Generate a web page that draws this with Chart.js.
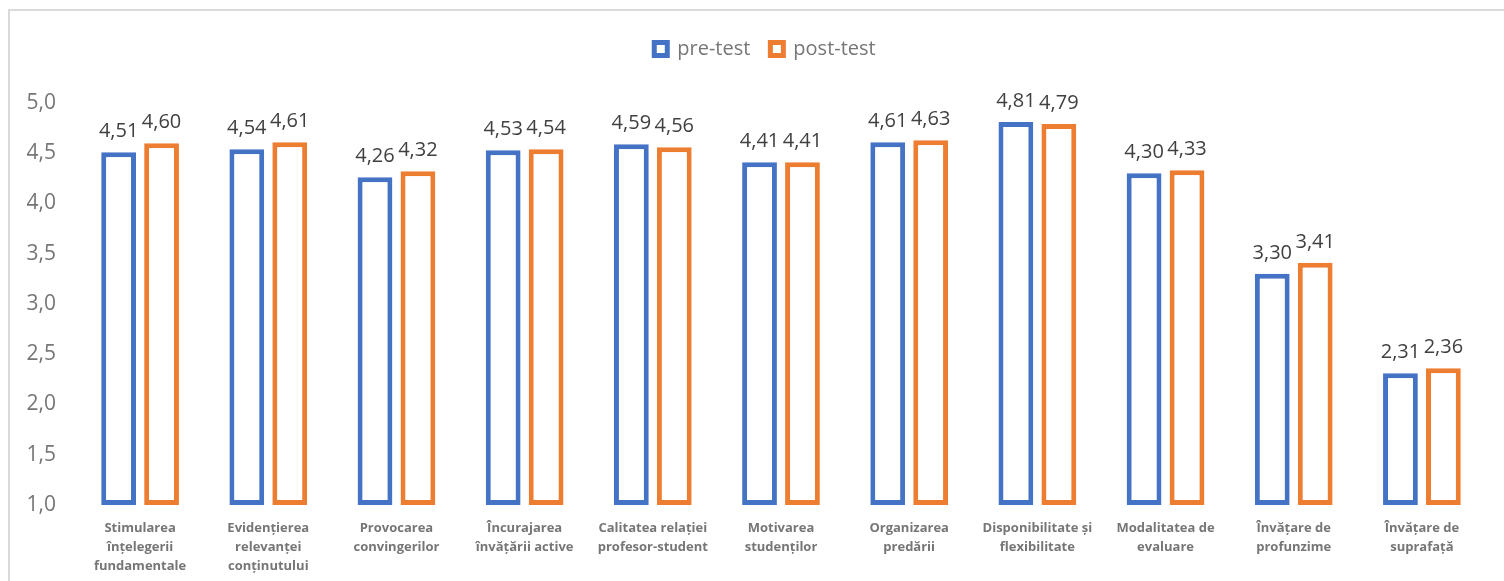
<!DOCTYPE html>
<html>
<head>
<meta charset="utf-8">
<title>pre-test / post-test</title>
<script src="https://cdn.jsdelivr.net/npm/chart.js@4.4.1/dist/chart.umd.min.js"></script>
<style>
  html, body { margin: 0; padding: 0; background: #fff; overflow: hidden; }
  .frame {
    position: absolute; left: 8px; top: 9px;
    width: 1600px; height: 700px;
    border: 2px solid #d9d9d9;
  }
  .wrap { position: absolute; left: 0; top: 0; width: 1504px; height: 581px; }
</style>
</head>
<body>
<div class="frame"></div>
<div class="wrap"><canvas id="chart"></canvas></div>
<script>
// Datele graficului
const categorii = [
  ['Stimularea', 'înțelegerii', 'fundamentale'],
  ['Evidențierea', 'relevanței', 'conținutului'],
  ['Provocarea', 'convingerilor'],
  ['Încurajarea', 'învățării active'],
  ['Calitatea relației', 'profesor-student'],
  ['Motivarea', 'studenților'],
  ['Organizarea', 'predării'],
  ['Disponibilitate și', 'flexibilitate'],
  ['Modalitatea de', 'evaluare'],
  ['Învățare de', 'profunzime'],
  ['Învățare de', 'suprafață'],
];
const preTest  = [4.51, 4.54, 4.26, 4.53, 4.59, 4.41, 4.61, 4.81, 4.30, 3.30, 2.31];
const postTest = [4.60, 4.61, 4.32, 4.54, 4.56, 4.41, 4.63, 4.79, 4.33, 3.41, 2.36];
const yMin = 1, yMax = 5, yStep = 0.5;

const BLUE = '#4472C4';
const ORANGE = '#ED7D31';
const GREY = '#767676';
const FONT = "'Open Sans', sans-serif";

const fmt = (v, d) => Number(v).toFixed(d).replace('.', ',');

// Etichete de valoare deasupra barelor
const valueLabels = {
  id: 'valueLabels',
  afterDatasetsDraw(chart) {
    const { ctx } = chart;
    ctx.save();
    ctx.font = `20px ${FONT}`;
    ctx.fillStyle = '#404040';
    ctx.textAlign = 'center';
    ctx.textBaseline = 'alphabetic';
    chart.data.datasets.forEach((ds, i) => {
      chart.getDatasetMeta(i).data.forEach((bar, j) => {
        ctx.fillText(fmt(ds.data[j], 2), bar.x, bar.y - 15);
      });
    });
    ctx.restore();
  },
};

// Legenda: inaltime fixa (zona graficului incepe la y=100) si centrata peste zona graficului
const legendTweak = {
  id: 'legendTweak',
  afterInit(chart) {
    const lg = chart.legend;
    if (!lg) return;
    const fit = lg.fit;
    lg.fit = function () {
      fit.call(this);
      this.height = 84;
    };
    const draw = lg.draw;
    lg.draw = function () {
      const ctx = this.ctx;
      ctx.save();
      ctx.translate(22, 0);
      draw.call(this);
      ctx.restore();
    };
  },
};

new Chart(document.getElementById('chart'), {
  type: 'bar',
  data: {
    labels: categorii,
    datasets: [
      {
        label: 'pre-test',
        data: preTest,
        backgroundColor: '#FFFFFF',
        borderColor: BLUE,
        borderWidth: 5,
        borderSkipped: false,
        base: yMin,
      },
      {
        label: 'post-test',
        data: postTest,
        backgroundColor: '#FFFFFF',
        borderColor: ORANGE,
        borderWidth: 5,
        borderSkipped: false,
        base: yMin,
      },
    ],
  },
  options: {
    responsive: true,
    maintainAspectRatio: false,
    animation: false,
    categoryPercentage: 0.67,
    barPercentage: 0.81,
    layout: { padding: { top: 19, right: 18, left: 0, bottom: 0 } },
    plugins: {
      tooltip: { enabled: false },
      legend: {
        display: true,
        position: 'top',
        labels: {
          color: GREY,
          font: { family: FONT, size: 20 },
          boxWidth: 13,
          boxHeight: 13,
          padding: 20,
          generateLabels(chart) {
            return chart.data.datasets.map((ds, i) => ({
              text: ds.label,
              fillStyle: '#FFFFFF',
              strokeStyle: ds.borderColor,
              lineWidth: 5,
              fontColor: GREY,
              datasetIndex: i,
            }));
          },
        },
      },
    },
    scales: {
      x: {
        grid: { display: false, drawTicks: false },
        border: { display: false },
        afterFit(scale) { scale.height = 76; },
        ticks: {
          color: GREY,
          maxRotation: 0,
          autoSkip: false,
          padding: 14,
          font: { family: FONT, size: 13, weight: 'bold', lineHeight: 1.46 },
        },
      },
      y: {
        min: yMin,
        max: yMax,
        grid: { display: false, drawTicks: false },
        border: { display: false },
        afterFit(scale) { scale.width = 76; },
        ticks: {
          stepSize: yStep,
          color: GREY,
          padding: 20,
          font: { family: FONT, size: 21 },
          callback: v => fmt(v, 1),
        },
      },
    },
  },
  plugins: [valueLabels, legendTweak],
});
</script>
</body>
</html>
